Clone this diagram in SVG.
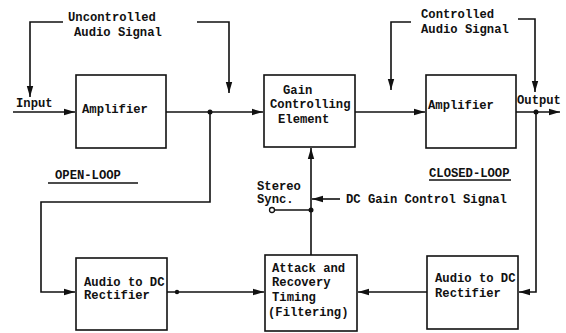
<svg xmlns="http://www.w3.org/2000/svg" width="566" height="333" viewBox="0 0 566 333">
<style>
.box{fill:#fff;stroke:#111;stroke-width:1.6}
.ln{fill:none;stroke:#111;stroke-width:1.6}
.t{font-family:"Liberation Mono",monospace;font-weight:bold;font-size:12.2px;fill:#111}
.dot{fill:#111}
</style>
<defs>
<marker id="ah" markerUnits="userSpaceOnUse" markerWidth="12" markerHeight="8" refX="11" refY="4" orient="auto">
<path d="M0,0.8 L11,4 L0,7.2 Z" fill="#111"/>
</marker>
</defs>
<rect width="566" height="333" fill="#fff"/>
<g id="connectors">
<path class="ln" d="M13,112 H75" marker-end="url(#ah)"/>
<path class="ln" d="M166,112 H263" marker-end="url(#ah)"/>
<path class="ln" d="M210,112 V202 H41 V292 H75" marker-end="url(#ah)"/>
<path class="ln" d="M63,22 H30 V97" marker-end="url(#ah)"/>
<path class="ln" d="M197,22 H229 V93" marker-end="url(#ah)"/>
<path class="ln" d="M355,112 H425" marker-end="url(#ah)"/>
<path class="ln" d="M516,112 H560" marker-end="url(#ah)"/>
<path class="ln" d="M536,112 V292 H519" marker-end="url(#ah)"/>
<path class="ln" d="M411,22 H391 V90" marker-end="url(#ah)"/>
<path class="ln" d="M518,19 H535 V92" marker-end="url(#ah)"/>
<path class="ln" d="M427,292 H358" marker-end="url(#ah)"/>
<path class="ln" d="M167,292 H264" marker-end="url(#ah)"/>
<path class="ln" d="M311,255 V148" marker-end="url(#ah)"/>
<path class="ln" d="M274.5,210 H311"/>
<path class="ln" d="M340,199 H312" marker-end="url(#ah)"/>
<circle cx="272" cy="210" r="2.5" fill="#fff" stroke="#111" stroke-width="1.3"/>
<circle class="dot" cx="210" cy="112" r="2.5"/>
<circle class="dot" cx="536" cy="112" r="2.5"/>
<circle class="dot" cx="311" cy="210" r="2.5"/>
<circle class="dot" cx="177" cy="292" r="2.2"/>
<path class="ln" d="M48,183 H138"/>
<path class="ln" d="M429,180 H511"/>
</g>
<g id="labels">
<text class="t" x="68" y="21">Uncontrolled</text>
<text class="t" x="74" y="36">Audio Signal</text>
<text class="t" x="421" y="18">Controlled</text>
<text class="t" x="421" y="33">Audio Signal</text>
<text class="t" x="16" y="107">Input</text>
<text class="t" x="517" y="104">Output</text>
<text class="t" x="55" y="179">OPEN-LOOP</text>
<text class="t" x="429" y="177">CLOSED-LOOP</text>
<text class="t" x="257" y="190">Stereo</text>
<text class="t" x="257" y="203">Sync.</text>
<text class="t" x="346" y="203">DC Gain Control Signal</text>
</g>
<g id="amp1">
<rect class="box" x="76" y="75" width="90" height="73"/>
<text class="t" x="82" y="113">Amplifier</text>
</g>
<g id="gain">
<rect class="box" x="264" y="75" width="91" height="72"/>
<text class="t" x="283" y="94">Gain</text>
<text class="t" x="270" y="108">Controlling</text>
<text class="t" x="278" y="123">Element</text>
</g>
<g id="amp2">
<rect class="box" x="426" y="75" width="90" height="73"/>
<text class="t" x="428" y="109">Amplifier</text>
</g>
<g id="rect1">
<rect class="box" x="76" y="258" width="91" height="72"/>
<text class="t" x="84" y="286">Audio to DC</text>
<text class="t" x="84" y="299">Rectifier</text>
</g>
<g id="attack">
<rect class="box" x="265" y="255" width="92" height="76"/>
<text class="t" x="272" y="272">Attack and</text>
<text class="t" x="272" y="286">Recovery</text>
<text class="t" x="272" y="301">Timing</text>
<text class="t" x="268" y="316">(Filtering)</text>
</g>
<g id="rect2">
<rect class="box" x="427" y="256" width="91" height="73"/>
<text class="t" x="435" y="282">Audio to DC</text>
<text class="t" x="435" y="297">Rectifier</text>
</g>
</svg>
